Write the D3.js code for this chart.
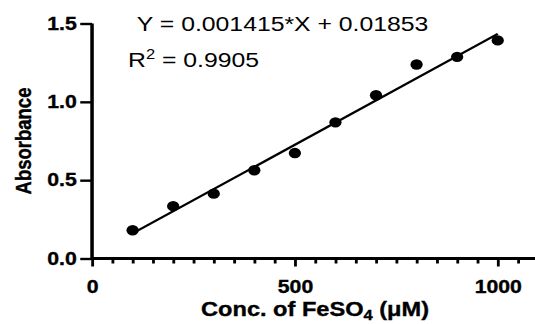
<!DOCTYPE html>
<html>
<head>
<meta charset="utf-8">
<script src="https://cdn.jsdelivr.net/npm/d3@7"></script>
<style>
	body { margin: 0; background: #fff; }
	svg { display: block; }
	text { font-family: "Liberation Sans", Arial, sans-serif; fill: #000; }
	.heavy { font-weight: bold; stroke: #000; stroke-width: 0.35px; }
</style>
</head>
<body>
<svg id="chart"></svg>
<script>
// data
const conc = [100, 200, 300, 400, 500, 600, 700, 800, 900, 1000];
const absorbance = [0.18, 0.334, 0.414, 0.563, 0.673, 0.869, 1.042, 1.238, 1.287, 1.392];
const slope = 0.001415;
const intercept = 0.01853;
const xTicks = [0, 500, 1000];
const yTicks = [0, 0.5, 1.0, 1.5];

// the reference is stretched sideways, so draw in a narrower box and let the viewBox stretch it
const W = 535, H = 324, stretch = 1.18;
const vw = W / stretch;

const svg = d3.select("#chart")
	.attr("width", W)
	.attr("height", H)
	.attr("viewBox", "0 0 " + vw + " " + H)
	.attr("preserveAspectRatio", "none");

const x0 = 78, yBottom = 258.5, yTop = 23.5;

const xScale = d3.scaleLinear().domain([0, 1100]).range([x0, x0 + 343.8 * 1.1]);
const yScale = d3.scaleLinear().domain([0, 1.5]).range([yBottom, yTop]);

// x axis: major ticks every 500, minor every 50
const xAxis = d3.axisBottom(xScale)
	.tickValues(xTicks)
	.tickSize(8)
	.tickPadding(14)
	.tickFormat(d3.format("d"));

const xMinor = d3.axisBottom(xScale)
	.tickValues(d3.range(50, 1101, 50).filter(d => d % 500 !== 0))
	.tickSize(5)
	.tickFormat("");

const gx = svg.append("g")
	.attr("transform", "translate(0," + yBottom + ")")
	.call(xAxis);
svg.append("g")
	.attr("transform", "translate(0," + yBottom + ")")
	.call(xMinor)
	.select(".domain").remove();

// y axis
const yAxis = d3.axisLeft(yScale)
	.tickValues(yTicks)
	.tickSize(10)
	.tickPadding(3)
	.tickFormat(d3.format(".1f"));

const gy = svg.append("g")
	.attr("transform", "translate(" + x0 + ",0)")
	.call(yAxis);

svg.selectAll(".domain")
	.attr("stroke", "#000")
	.attr("stroke-width", 3);

gx.select(".domain").attr("d", "M" + x0 + ",0H" + xScale(1100));
gy.select(".domain").attr("d", "M0," + yBottom + "V" + yTop);

svg.selectAll(".tick line")
	.attr("stroke", "#000")
	.attr("stroke-width", 2.4);

svg.selectAll(".tick text")
	.attr("class", "heavy")
	.style("font-size", "18px")
	.style("font-family", "'Liberation Sans', Arial, sans-serif");

// regression line
svg.append("line")
	.attr("x1", xScale(100))
	.attr("y1", yScale(slope * 100 + intercept))
	.attr("x2", xScale(1000))
	.attr("y2", yScale(slope * 1000 + intercept))
	.attr("stroke", "#000")
	.attr("stroke-width", 2.2);

// points
svg.selectAll("circle.pt")
	.data(conc)
	.enter()
	.append("circle")
	.attr("class", "pt")
	.attr("cx", d => xScale(d))
	.attr("cy", (d, i) => yScale(absorbance[i]))
	.attr("r", 5.2)
	.attr("fill", "#000");

// equation and r squared
svg.append("text")
	.attr("x", 116)
	.attr("y", 31)
	.style("font-size", "21px")
	.text("Y = 0.001415*X + 0.01853");

const r2 = svg.append("text")
	.attr("x", 108.5)
	.attr("y", 67)
	.style("font-size", "21px");
r2.append("tspan").text("R");
r2.append("tspan").attr("dy", -8).style("font-size", "14px").text("2");
r2.append("tspan").attr("dy", 8).text(" = 0.9905");

// axis titles
const xt = svg.append("text")
	.attr("class", "heavy")
	.attr("x", 267)
	.attr("y", 316)
	.attr("text-anchor", "middle")
	.style("font-size", "20px");
xt.append("tspan").text("Conc. of FeSO");
xt.append("tspan").attr("dy", 4).style("font-size", "14px").text("4");
xt.append("tspan").attr("dy", -4).text(" (\u03bcM)");

svg.append("text")
	.attr("class", "heavy")
	.attr("transform", "translate(26,141) rotate(-90)")
	.attr("text-anchor", "middle")
	.style("font-size", "18.5px")
	.text("Absorbance");
</script>
</body>
</html>
